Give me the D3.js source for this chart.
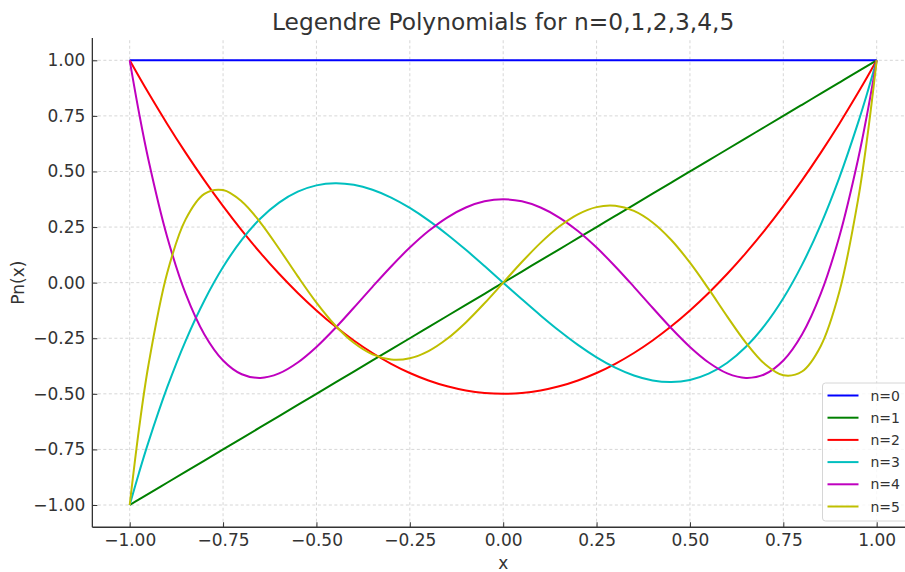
<!DOCTYPE html>
<html>
<head>
<meta charset="utf-8">
<script src="https://cdn.jsdelivr.net/npm/d3@7"></script>
<style>
  body { margin: 0; background: #fff; }
  svg { display: block; font-family: 'DejaVu Sans', sans-serif; }
</style>
</head>
<body>
<div id="chart"></div>
<script>
// sample points
const xValues = [-1, -0.975, -0.95, -0.9, -0.85, -0.8, -0.75, -0.7, -0.65, -0.6, -0.55, -0.5, -0.45, -0.4, -0.35, -0.3, -0.25, -0.2, -0.15, -0.1, -0.05,
  0, 0.05, 0.1, 0.15, 0.2, 0.25, 0.3, 0.35, 0.4, 0.45, 0.5, 0.55, 0.6, 0.65, 0.7, 0.75, 0.8, 0.85, 0.9, 0.95, 0.975, 1];

const p0 = [1, 1, 1, 1, 1, 1, 1, 1, 1, 1, 1, 1, 1, 1, 1, 1, 1, 1, 1, 1, 1,
  1, 1, 1, 1, 1, 1, 1, 1, 1, 1, 1, 1, 1, 1, 1, 1, 1, 1, 1, 1, 1, 1];
const p1 = [-1, -0.975, -0.95, -0.9, -0.85, -0.8, -0.75, -0.7, -0.65, -0.6, -0.55, -0.5, -0.45, -0.4, -0.35, -0.3, -0.25, -0.2, -0.15, -0.1, -0.05,
  0, 0.05, 0.1, 0.15, 0.2, 0.25, 0.3, 0.35, 0.4, 0.45, 0.5, 0.55, 0.6, 0.65, 0.7, 0.75, 0.8, 0.85, 0.9, 0.95, 0.975, 1];
const p2 = [1, 0.9259, 0.8538, 0.715, 0.5838, 0.46, 0.3438, 0.235, 0.1338, 0.04, -0.0463, -0.125, -0.1963, -0.26, -0.3163, -0.365, -0.4063, -0.44, -0.4663, -0.485, -0.4963,
  -0.5, -0.4963, -0.485, -0.4663, -0.44, -0.4063, -0.365, -0.3163, -0.26, -0.1963, -0.125, -0.0463, 0.04, 0.1338, 0.235, 0.3438, 0.46, 0.5838, 0.715, 0.8538, 0.9259, 1];
const p3 = [-1, -0.8546, -0.7184, -0.4725, -0.2603, -0.08, 0.0703, 0.1925, 0.2884, 0.36, 0.4091, 0.4375, 0.4472, 0.44, 0.4178, 0.3825, 0.3359, 0.28, 0.2166, 0.1475, 0.0747,
  0, -0.0747, -0.1475, -0.2166, -0.28, -0.3359, -0.3825, -0.4178, -0.44, -0.4472, -0.4375, -0.4091, -0.36, -0.2884, -0.1925, -0.0703, 0.08, 0.2603, 0.4725, 0.7184, 0.8546, 1];
const p4 = [1, 0.7638, 0.5541, 0.2079, -0.0506, -0.233, -0.3501, -0.4121, -0.4284, -0.408, -0.359, -0.2891, -0.205, -0.113, -0.0187, 0.0729, 0.1577, 0.232, 0.2928, 0.3379, 0.3657,
  0.375, 0.3657, 0.3379, 0.2928, 0.232, 0.1577, 0.0729, -0.0187, -0.113, -0.205, -0.2891, -0.359, -0.408, -0.4284, -0.4121, -0.3501, -0.233, -0.0506, 0.2079, 0.5541, 0.7638, 1];
const p5 = [-1, -0.6567, -0.3727, 0.0411, 0.2857, 0.3995, 0.4164, 0.3652, 0.2705, 0.1526, 0.0282, -0.0898, -0.1917, -0.2706, -0.3225, -0.3454, -0.3397, -0.3075, -0.2523, -0.1788, -0.0927,
  0, 0.0927, 0.1788, 0.2523, 0.3075, 0.3397, 0.3454, 0.3225, 0.2706, 0.1917, 0.0898, -0.0282, -0.1526, -0.2705, -0.3652, -0.4164, -0.3995, -0.2857, -0.0411, 0.3727, 0.6567, 1];

const seriesNames = ['n=0', 'n=1', 'n=2', 'n=3', 'n=4', 'n=5'];
const seriesValues = [p0, p1, p2, p3, p4, p5];
const seriesColors = ['#0000ff', '#008000', '#ff0000', '#00bfbf', '#bf00bf', '#bfbf00'];

const xTicks = [-1, -0.75, -0.5, -0.25, 0, 0.25, 0.5, 0.75, 1];
const yTicks = [-1, -0.75, -0.5, -0.25, 0, 0.25, 0.5, 0.75, 1];

const width = 905;
const height = 572;
const textColor = '#333333';

const svg = d3.select('#chart').append('svg')
  .attr('width', width)
  .attr('height', height);

const x = d3.scaleLinear().domain([-1, 1]).range([129.7, 876.7]);
const y = d3.scaleLinear().domain([-1, 1]).range([505, 60.3]);

const xMin = x(-1.1), xMax = x(1.1);
const yMin = y(-1.1), yMax = y(1.1);

const fmt = d => d3.format('.2f')(d).replace('-', '\u2212');

// grid
const grid = svg.append('g').attr('class', 'grid')
  .attr('stroke', '#cccccc').attr('stroke-width', 0.8).attr('stroke-dasharray', '3,2.5');
grid.selectAll('.vgrid').data(xTicks).enter().append('line')
  .attr('x1', d => x(d)).attr('x2', d => x(d)).attr('y1', yMin).attr('y2', yMax);
grid.selectAll('.hgrid').data(yTicks).enter().append('line')
  .attr('y1', d => y(d)).attr('y2', d => y(d)).attr('x1', xMin).attr('x2', xMax);

// curves
const line = d3.line()
  .x(d => x(d[0]))
  .y(d => y(d[1]))
  .curve(d3.curveCatmullRom.alpha(0.5));

svg.append('g').attr('class', 'curves')
  .selectAll('path')
  .data(seriesValues)
  .enter().append('path')
  .attr('d', vals => line(vals.map((v, i) => [xValues[i], v])))
  .attr('fill', 'none')
  .attr('stroke', (d, i) => seriesColors[i])
  .attr('stroke-width', 2)
  .attr('stroke-linejoin', 'round');

// axes, ticks inward
const xAxis = svg.append('g')
  .attr('transform', `translate(0, ${yMin})`)
  .call(d3.axisBottom(x).tickValues(xTicks).tickFormat(fmt).tickSizeInner(-5).tickSizeOuter(0).tickPadding(7));
const yAxis = svg.append('g')
  .attr('transform', `translate(${xMin}, 0)`)
  .call(d3.axisLeft(y).tickValues(yTicks).tickFormat(fmt).tickSizeInner(-5).tickSizeOuter(0).tickPadding(7));

[xAxis, yAxis].forEach(ax => {
  ax.select('.domain').remove();
  ax.selectAll('.tick line').attr('stroke', textColor).attr('stroke-width', 1);
  ax.selectAll('.tick text').attr('fill', textColor)
    .style('font-size', '17px').style('font-family', 'DejaVu Sans');
});
xAxis.selectAll('.tick text').attr('dy', '0.71em');

svg.append('line').attr('x1', xMin).attr('x2', xMax).attr('y1', yMin).attr('y2', yMin)
  .attr('stroke', textColor).attr('stroke-width', 1.3);
svg.append('line').attr('x1', xMin).attr('x2', xMin).attr('y1', yMin).attr('y2', yMax)
  .attr('stroke', textColor).attr('stroke-width', 1.3);

// labels
svg.append('text').text('Legendre Polynomials for n=0,1,2,3,4,5')
  .attr('x', (xMin + xMax) / 2).attr('y', 30)
  .attr('text-anchor', 'middle')
  .attr('fill', textColor)
  .style('font-size', '23.3px');

svg.append('text').text('x')
  .attr('x', (xMin + xMax) / 2).attr('y', 569)
  .attr('text-anchor', 'middle')
  .attr('fill', textColor)
  .style('font-size', '17px');

svg.append('text').text('Pn(x)')
  .attr('transform', `translate(24, ${(yMin + yMax) / 2}) rotate(-90)`)
  .attr('text-anchor', 'middle')
  .attr('fill', textColor)
  .style('font-size', '17px');

// legend
const legend = svg.append('g').attr('class', 'legend')
  .attr('transform', 'translate(822.5, 383)');
legend.append('rect')
  .attr('width', 100).attr('height', 138)
  .attr('rx', 3)
  .attr('fill', '#ffffff').attr('fill-opacity', 0.8)
  .attr('stroke', '#d6d6d6').attr('stroke-width', 1);

const items = legend.selectAll('.item')
  .data(seriesNames)
  .enter().append('g')
  .attr('class', 'item')
  .attr('transform', (d, i) => `translate(0, ${12.5 + i * 22.2})`);
items.append('line')
  .attr('x1', 5).attr('x2', 36)
  .attr('stroke', (d, i) => seriesColors[i])
  .attr('stroke-width', 2);
items.append('text').text(d => d)
  .attr('x', 48).attr('dy', '0.36em')
  .attr('fill', textColor)
  .style('font-size', '14px');
</script>
</body>
</html>
